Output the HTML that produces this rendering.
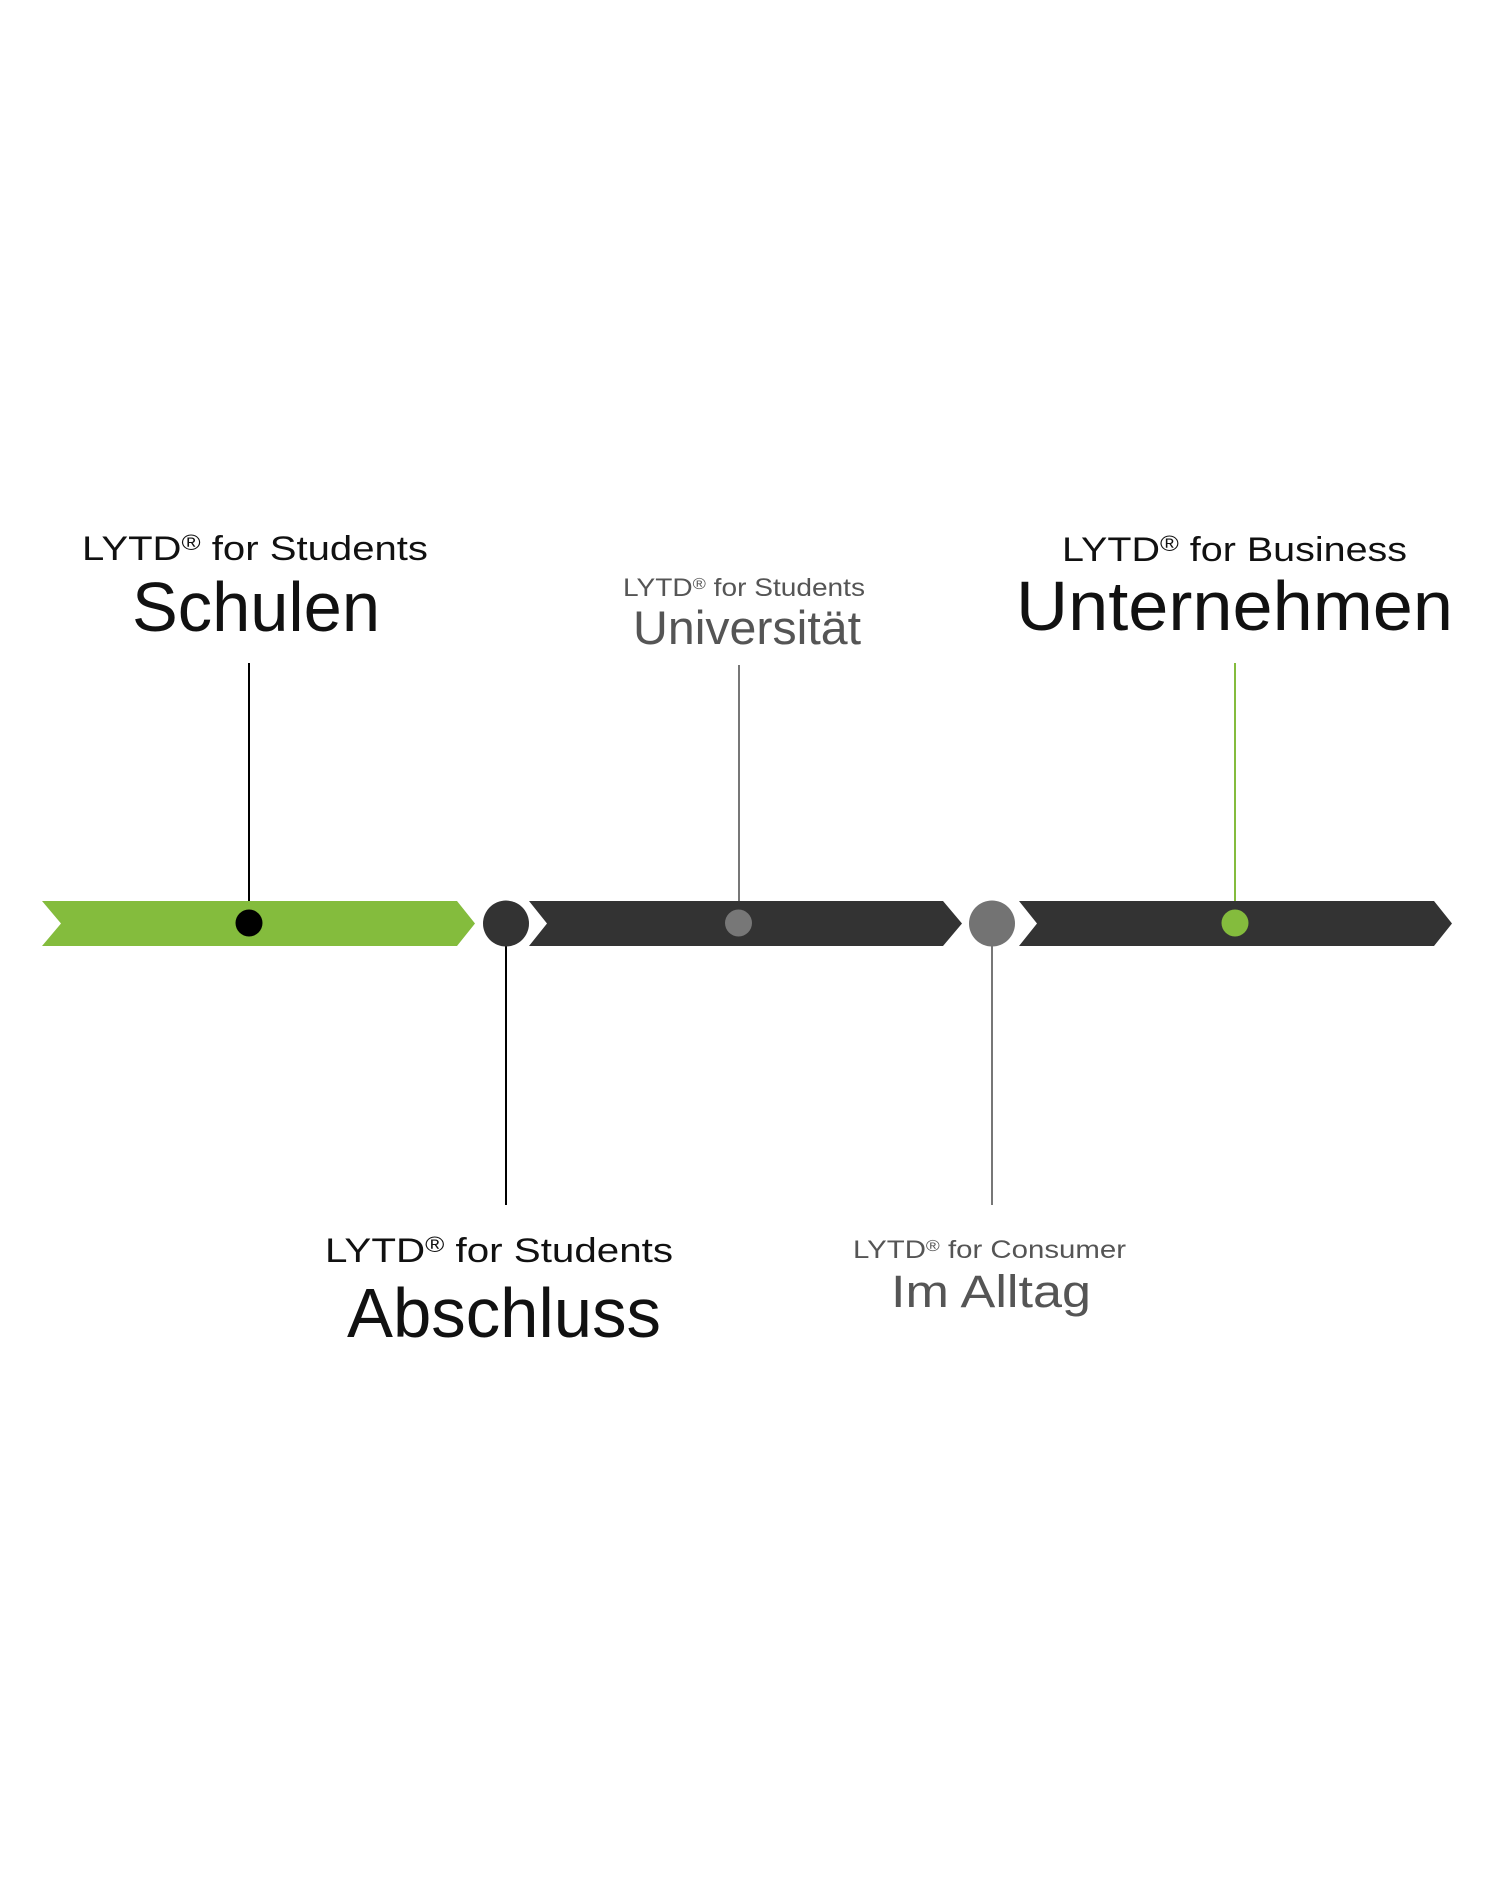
<!DOCTYPE html>
<html>
<head>
<meta charset="utf-8">
<style>
html,body{margin:0;padding:0;background:#fff;}
svg{display:block;}
text{font-family:"Liberation Sans", Arial, sans-serif;}
</style>
</head>
<body>
<svg width="1500" height="1900" viewBox="0 0 1500 1900" xmlns="http://www.w3.org/2000/svg">
<rect x="0" y="0" width="1500" height="1900" fill="#ffffff"/>

<!-- connector lines -->
<line x1="249" y1="663" x2="249" y2="923" stroke="#000000" stroke-width="2"/>
<line x1="739" y1="665" x2="739" y2="923" stroke="#777777" stroke-width="2"/>
<line x1="1235" y1="663" x2="1235" y2="923" stroke="#84BC3D" stroke-width="2"/>
<line x1="506" y1="946" x2="506" y2="1205" stroke="#000000" stroke-width="2"/>
<line x1="992" y1="946" x2="992" y2="1205" stroke="#777777" stroke-width="2"/>

<!-- arrows -->
<polygon points="42,901 457,901 475,923.5 457,946 42,946 61,923.5" fill="#84BC3D"/>
<polygon points="529,901 943,901 962,923.5 943,946 529,946 547,923.5" fill="#333333"/>
<polygon points="1019,901 1434,901 1452,923.5 1434,946 1019,946 1037,923.5" fill="#333333"/>

<!-- milestone circles -->
<circle cx="506" cy="923.5" r="23" fill="#333333"/>
<circle cx="992" cy="923.5" r="23" fill="#737373"/>

<!-- dots -->
<circle cx="249" cy="923" r="13.5" fill="#000000"/>
<circle cx="738.5" cy="923" r="13.5" fill="#777777"/>
<circle cx="1235" cy="923" r="13.5" fill="#84BC3D"/>

<!-- labels -->
<text x="82" y="560" font-size="34" fill="#111111" textLength="346" lengthAdjust="spacingAndGlyphs">LYTD<tspan font-size="22" dy="-10">®</tspan><tspan dy="10"> for Students</tspan></text>
<text x="132" y="631" font-size="70" fill="#111111" textLength="248" lengthAdjust="spacingAndGlyphs">Schulen</text>

<text x="623" y="596" font-size="25" fill="#555555" textLength="242" lengthAdjust="spacingAndGlyphs">LYTD<tspan font-size="16" dy="-7">®</tspan><tspan dy="7"> for Students</tspan></text>
<text x="633" y="644" font-size="47" fill="#555555" textLength="228" lengthAdjust="spacingAndGlyphs">Universität</text>

<text x="1062" y="561" font-size="34" fill="#111111" textLength="345" lengthAdjust="spacingAndGlyphs">LYTD<tspan font-size="22" dy="-10">®</tspan><tspan dy="10"> for Business</tspan></text>
<text x="1016" y="630" font-size="70" fill="#111111" textLength="437" lengthAdjust="spacingAndGlyphs">Unternehmen</text>

<text x="325" y="1262" font-size="34" fill="#111111" textLength="348" lengthAdjust="spacingAndGlyphs">LYTD<tspan font-size="22" dy="-10">®</tspan><tspan dy="10"> for Students</tspan></text>
<text x="347" y="1337" font-size="70" fill="#111111" textLength="314" lengthAdjust="spacingAndGlyphs">Abschluss</text>

<text x="853" y="1258" font-size="25" fill="#555555" textLength="273" lengthAdjust="spacingAndGlyphs">LYTD<tspan font-size="16" dy="-7">®</tspan><tspan dy="7"> for Consumer</tspan></text>
<text x="891" y="1307" font-size="45" fill="#555555" textLength="200" lengthAdjust="spacingAndGlyphs">Im Alltag</text>
</svg>
</body>
</html>
